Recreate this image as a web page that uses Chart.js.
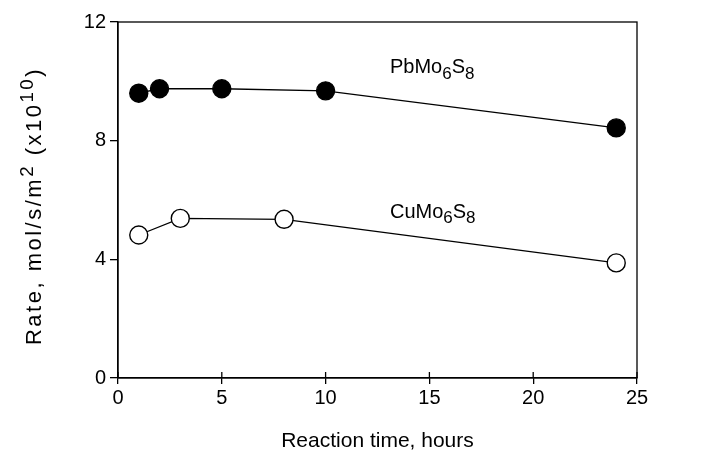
<!DOCTYPE html>
<html lang="en">
<head>
    <meta charset="UTF-8">
    <title>Rate vs reaction time</title>
    <script src="https://cdn.jsdelivr.net/npm/chart.js@4.4.0/dist/chart.umd.min.js"></script>
    <style>
        body { margin: 0; background: #fff; }
        #wrap { width: 703px; height: 458px; }
    </style>
</head>
<body>
    <div id="wrap"><canvas id="chart" width="703" height="458"></canvas></div>

    <script>
        'use strict';

        // data
        const pbTime = [1, 2, 5, 10, 24];
        const pbRate = [9.6, 9.75, 9.75, 9.68, 8.43];
        const cuTime = [1, 3, 8, 24];
        const cuRate = [4.82, 5.38, 5.35, 3.88];
        const xTicks = [0, 5, 10, 15, 20, 25];
        const yTicks = [0, 4, 8, 12];

        const FONT = '"Liberation Sans", Arial, sans-serif';

        // draws a run of [text, shift] pieces; shift <0 is superscript, >0 subscript
        function drawRuns(ctx, runs, x, y, size) {
            let cx = x;
            runs.forEach(([txt, shift]) => {
                const s = shift ? size * 0.85 : size;
                ctx.font = s + 'px ' + FONT;
                ctx.fillText(txt, cx, y + shift);
                cx += ctx.measureText(txt).width;
            });
            return cx - x;
        }
        function runsWidth(ctx, runs, size) {
            let w = 0;
            runs.forEach(([txt, shift]) => {
                ctx.font = (shift ? size * 0.85 : size) + 'px ' + FONT;
                w += ctx.measureText(txt).width;
            });
            return w;
        }

        const extras = {
            id: 'extras',
            afterDraw(chart) {
                const ctx = chart.ctx;
                const a = chart.chartArea;
                const xs = chart.scales.x, ys = chart.scales.y;
                ctx.save();
                // frame
                ctx.strokeStyle = '#000';
                ctx.lineWidth = 1.3;
                ctx.strokeRect(a.left, a.top, a.right - a.left, a.bottom - a.top);
                // inner half of x ticks
                xTicks.forEach(v => {
                    const px = xs.getPixelForValue(v);
                    ctx.beginPath();
                    ctx.moveTo(px, a.bottom);
                    ctx.lineTo(px, a.bottom - 6);
                    ctx.stroke();
                });
                ctx.fillStyle = '#000';
                ctx.textBaseline = 'middle';
                ctx.textAlign = 'left';
                // series labels
                drawRuns(ctx, [['PbMo', 0], ['6', 6], ['S', 0], ['8', 6]],
                    xs.getPixelForValue(13.1), ys.getPixelForValue(10.45), 20);
                drawRuns(ctx, [['CuMo', 0], ['6', 6], ['S', 0], ['8', 6]],
                    xs.getPixelForValue(13.1), ys.getPixelForValue(5.58), 20);
                // y axis title, spaced out like the plotter lettering
                ctx.letterSpacing = '2.5px';
                const yRuns = [['Rate, mol/s/m', 0], ['2', -7], [' (x10', 0], ['10', -7], [')', 0]];
                const w = runsWidth(ctx, yRuns, 22);
                ctx.translate(35, (a.top + a.bottom) / 2 + 6);
                ctx.rotate(-Math.PI / 2);
                drawRuns(ctx, yRuns, -w / 2, 0, 22);
                ctx.restore();
            }
        };

        const pointStyle = {
            pointRadius: 9,
            pointHoverRadius: 9,
            pointBorderColor: '#000',
            pointBorderWidth: 1.4,
            borderColor: '#000',
            borderWidth: 1.3,
            tension: 0
        };

        new Chart(document.getElementById('chart'), {
            type: 'scatter',
            data: {
                datasets: [
                    Object.assign({
                        label: 'PbMo6S8',
                        data: pbTime.map((t, i) => ({ x: t, y: pbRate[i] })),
                        showLine: true,
                        pointBackgroundColor: '#000'
                    }, pointStyle),
                    Object.assign({
                        label: 'CuMo6S8',
                        data: cuTime.map((t, i) => ({ x: t, y: cuRate[i] })),
                        showLine: true,
                        pointBackgroundColor: '#fff'
                    }, pointStyle)
                ]
            },
            options: {
                responsive: false,
                animation: false,
                clip: false,
                layout: { padding: { left: 0, right: 66, top: 22, bottom: 0 } },
                plugins: { legend: { display: false }, tooltip: { enabled: false } },
                scales: {
                    x: {
                        type: 'linear',
                        min: 0, max: 25,
                        afterBuildTicks: s => { s.ticks = xTicks.map(v => ({ value: v })); },
                        afterFit: s => { s.height = 80; },
                        grid: { drawOnChartArea: false, tickLength: 6, color: '#000', lineWidth: 1.3 },
                        border: { color: '#000', width: 1.3 },
                        ticks: { color: '#000', font: { family: FONT, size: 20 }, padding: 2 },
                        title: {
                            display: true, text: 'Reaction time, hours', color: '#000',
                            font: { family: FONT, size: 21 }, padding: { top: 14 }
                        }
                    },
                    y: {
                        type: 'linear',
                        min: 0, max: 12,
                        afterBuildTicks: s => { s.ticks = yTicks.map(v => ({ value: v })); },
                        afterFit: s => { s.width = 118; },
                        grid: { drawOnChartArea: false, tickLength: 8, color: '#000', lineWidth: 1.3 },
                        border: { color: '#000', width: 1.3 },
                        ticks: { color: '#000', font: { family: FONT, size: 20 }, padding: 4 }
                    }
                }
            },
            plugins: [extras]
        });
    </script>
</body>
</html>
